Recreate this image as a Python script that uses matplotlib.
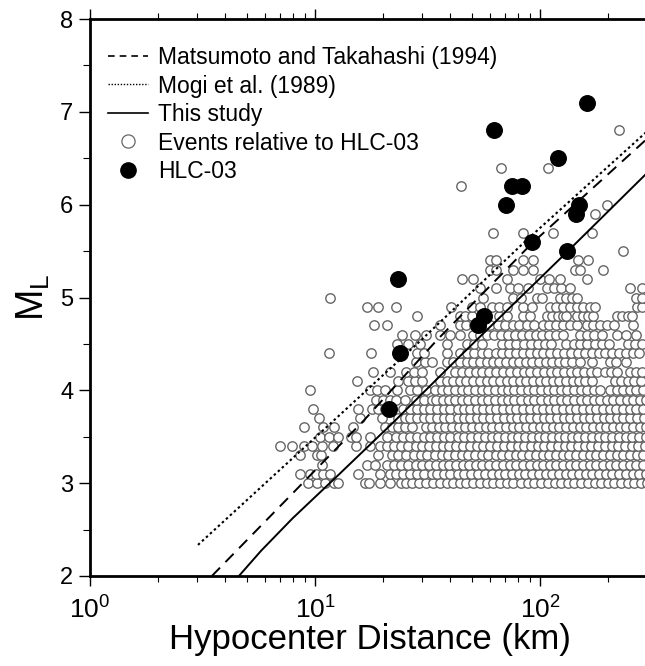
#!/usr/bin/env python3
# M_L vs hypocenter distance, HLC-03 events

import matplotlib
matplotlib.use('Agg')
import matplotlib.pyplot as plt
from matplotlib.lines import Line2D
from matplotlib.ticker import LogLocator, LogFormatterSciNotation, MultipleLocator

plt.rcParams['font.family'] = ['Liberation Sans', 'DejaVu Sans']
plt.rcParams['mathtext.fontset'] = 'custom'
plt.rcParams['mathtext.rm'] = 'Liberation Sans'
plt.rcParams['mathtext.it'] = 'Liberation Sans'
plt.rcParams['mathtext.default'] = 'regular'

# ---- data ----
# relations (distance km, magnitude)
matsumoto_dist = [3.48, 16.4, 34.8, 91.8, 293, 398]
matsumoto_mag = [2.0, 3.67, 4.54, 5.58, 6.69, 6.98]

mogi_dist = [3.02, 12.05, 29.3, 87.3, 293, 398]
mogi_mag = [2.335, 3.67, 4.53, 5.62, 6.77, 7.06]

study_dist = [4.59, 5.75, 7.94, 12.6, 22.4, 45.5, 131.8, 293, 398]
study_mag = [2.0, 2.27, 2.62, 3.08, 3.66, 4.40, 5.49, 6.32, 6.64]

# HLC-03 events
hlc_dist = [21.3, 23.9, 23.5, 52.8, 56.5, 62.6, 70.4, 75.1, 82.8, 92.4,
            120.6, 132, 144, 149, 162]
hlc_mag = [3.8, 4.4, 5.2, 4.7, 4.8, 6.8, 6.0, 6.2, 6.2, 5.6,
           6.5, 5.5, 5.9, 6.0, 7.1]

# x tick positions that carry a label
x_ticks = [1, 10, 100]

# events relative to HLC-03, one list of distances per magnitude level
event_mags = [3.0, 3.1, 3.2, 3.3, 3.4, 3.5, 3.6, 3.7, 3.8, 3.9,
              4.0, 4.1, 4.2, 4.3, 4.4, 4.5, 4.6, 4.7, 4.8, 4.9,
              5.0, 5.1, 5.2, 5.3, 5.4, 5.5, 5.7, 5.9, 6.0, 6.2, 6.4, 6.8]
event_dists = [
    [9.3, 10.2, 11.1, 12.1, 12.7, 16.7, 17.3, 19.4, 21.5, 24, 25.5, 27, 29, 31, 33.5, 36, 38.5, 41, 44, 47,
     50.5, 54, 58, 62, 66.5, 71, 76, 82, 88, 94, 101, 108, 116, 124, 133, 142, 152, 163, 175, 187, 200,
     214, 229, 245, 262, 280, 300],
    [8.6, 9.5, 10.1, 10.9, 11.7, 15.6, 19.4, 21.5, 23, 24.5, 26.5, 28.5, 30.5, 33, 35, 37.5, 40, 43, 46,
     49.5, 53, 57, 61, 65.5, 70, 75, 80.5, 86, 92, 99, 106, 113.5, 121.5, 130, 139, 149, 160, 171, 183,
     196, 210, 225, 241, 258, 276, 296],
    [10.7, 17, 18.5, 21, 22.5, 24, 26, 28, 30, 32, 34.5, 37, 39.5, 42.5, 45.5, 48.5, 52, 55.5, 59.5, 64,
     68.5, 73.5, 78.5, 84, 90, 96.5, 103, 110.5, 118, 126.5, 135.5, 145, 155, 166, 178, 190, 204, 218,
     233, 250, 268, 287],
    [8.6, 10.2, 10.6, 19, 22, 23.5, 25.5, 27.5, 29.5, 31.5, 34, 36.5, 39, 42, 45, 48, 51.5, 55, 59, 63.5,
     68, 73, 78, 83.5, 89.5, 96, 103, 110, 118, 126, 135, 145, 155, 166, 178, 191, 204, 219, 234, 251,
     269, 288],
    [7.0, 7.9, 8.9, 9.7, 10.7, 12, 15.2, 17.6, 19.5, 21, 22.5, 24, 26, 28, 30, 32, 34.5, 37, 39.5, 42.5,
     45.5, 49, 52.5, 56, 60, 64.5, 69, 74, 79.5, 85, 91, 97.5, 104.5, 112, 120, 128.5, 137.5, 147.5, 158,
     169, 181, 194, 208, 223, 239, 256, 274, 294],
    [10.5, 11.5, 12.7, 14.5, 15.2, 17.5, 21, 23, 24.5, 26.5, 28.5, 30.5, 32.5, 35, 37.5, 40, 43, 46, 49.5,
     53, 57, 61, 65, 70, 75, 80, 86, 92, 98.5, 105.5, 113, 121, 129.5, 138.5, 148, 158.5, 170, 182, 195,
     209, 224, 240, 257, 275, 295],
    [8.9, 10.9, 12.1, 14.7, 20.5, 22, 23.5, 25, 27, 31, 33, 35.5, 38, 40.5, 43.5, 46.5, 50, 53.5, 57.5,
     61.5, 66, 70.5, 75.5, 81, 87, 93, 99.5, 106.5, 114, 122, 131, 140, 150, 160.5, 172, 184, 197, 211,
     226, 242, 259, 277, 297],
    [10.4, 15.8, 19.8, 23.5, 25, 26.5, 28.5, 30.5, 32.5, 35, 37.5, 40, 43, 46, 49, 52.5, 56, 60, 64.5, 69,
     74, 79, 84.5, 90.5, 97, 104, 111, 119, 127.5, 136.5, 146, 156.5, 167.5, 179, 192, 205, 220, 235, 252,
     270, 289],
    [9.8, 15.5, 18, 19, 20.5, 24.5, 26.5, 28.5, 30.5, 32.5, 35, 37.5, 40, 43, 46, 49, 52.5, 56, 60, 64,
     68.5, 73.5, 78.5, 84, 90, 96.5, 103, 110.5, 118, 126.5, 135.5, 145, 155, 166, 178, 190.5, 204, 218,
     233.5, 250, 267.5, 286],
    [18.7, 20, 21.5, 23, 25, 28, 30.5, 33, 34.5, 37, 39.5, 42, 45, 48, 51.5, 55, 59, 63, 67.5, 72, 77,
     82.5, 88.5, 94.5, 101, 108, 115.5, 123.5, 132, 141.5, 151.5, 162, 173, 185, 198, 212, 227, 243, 260,
     278, 297],
    [9.5, 17.6, 18.8, 20.5, 23.1, 26.5, 28.5, 31, 34, 36.5, 39, 42, 45, 48, 51.5, 55, 59, 63, 67.5, 72,
     77, 82.5, 88.5, 94.5, 101, 108, 115.5, 123.5, 132, 141.5, 151.5, 162, 173, 185, 205, 219, 234, 250,
     268, 287],
    [15.3, 23.4, 26, 27.8, 30, 36, 38.5, 41, 44, 47, 50.5, 54, 58, 62, 66.5, 71, 76, 81.5, 87, 93, 99.5,
     106.5, 114, 122, 130.5, 139.5, 149, 159, 170, 215, 230, 246, 263, 281],
    [18.1, 21.5, 25.5, 27.5, 30, 36, 42, 45, 48.5, 52, 55.5, 59.5, 64, 68.5, 73.5, 79, 84.5, 90.5, 97,
     104, 111.5, 119.5, 128, 137, 146.5, 157, 168, 180, 194, 207, 220, 251, 268, 285],
    [28.2, 30.8, 33, 38.5, 41, 44, 47.5, 50.5, 54, 58, 62, 66, 70.5, 75.5, 81, 86.5, 92.5, 99, 106, 113,
     121, 129.5, 138.5, 150, 170, 205, 218, 240],
    [11.5, 17.7, 28.3, 30.5, 38.5, 44, 47.5, 51, 55, 59, 63.5, 68, 73, 78.5, 84, 90, 96.5, 103.5, 111,
     119, 127.5, 137, 147, 158, 170, 182, 195, 209, 224, 240, 258, 276],
    [23.1, 26, 29.3, 38.5, 47.2, 51, 55.5, 68, 73, 78.5, 84.5, 91, 98, 105, 112, 131, 141, 151, 162, 175,
     188, 202, 245, 265, 285],
    [24.3, 27.8, 31.3, 35.9, 39.8, 44, 50.5, 54, 58, 62.5, 67, 72, 77.5, 83, 89, 95.5, 102.5, 110, 118,
     126, 151, 162, 174, 188, 220, 240, 268],
    [18.2, 20.8, 36, 44, 47, 51, 55.5, 60, 65, 70, 75.5, 81, 87.5, 94, 103, 110, 118, 127, 136, 146, 161,
     172, 185, 199, 214, 258],
    [28.5, 44.1, 46.4, 50, 56, 66, 71, 84, 90, 107, 113, 120, 127, 131, 146, 155, 164, 172, 219, 232, 245,
     256],
    [17.1, 19.1, 22.8, 40.2, 50, 54, 61, 66, 71, 84, 92, 111, 118, 127, 136, 146, 156, 166, 176, 270, 285],
    [11.7, 56, 76, 82, 97, 102, 123, 131, 139, 146, 268, 285],
    [54, 64, 73.6, 80, 88, 107, 115, 124, 136, 251, 285],
    [44.9, 50.5, 71, 100, 110, 123, 161],
    [60, 64, 76, 84, 93, 143, 151, 191],
    [60, 64, 84, 93, 147, 163],
    [233],
    [62, 84.3, 114.6, 170],
    [175],
    [198],
    [44.6],
    [67, 109],
    [224],
]

# ---- figure ----
fig = plt.figure(figsize=(6.45, 6.66), dpi=100)
# axes run out past the right edge (the original is cropped there)
ax = fig.add_axes([90 / 645, 90 / 666, 675 / 645, 557 / 666])

ev_x = []
ev_y = []
for m, row in zip(event_mags, event_dists):
    ev_x += row
    ev_y += [m] * len(row)

ax.scatter(ev_x, ev_y, s=46, facecolors='white', edgecolors='#666666',
           linewidths=1.0, zorder=2)

ax.plot(matsumoto_dist, matsumoto_mag, color='black', lw=1.4,
        dashes=(6, 4), zorder=3)
ax.plot(mogi_dist, mogi_mag, color='black', lw=1.5, dashes=(1.2, 1.4), zorder=3)
ax.plot(study_dist, study_mag, color='black', lw=1.4, zorder=3)

ax.scatter(hlc_dist, hlc_mag, s=125, color='black', edgecolors='black', zorder=4)

ax.set_xscale('log')
ax.set_xlim(1, 1000)
ax.set_ylim(2, 8)

ax.set_xticks(x_ticks)
ax.xaxis.set_minor_locator(LogLocator(base=10, subs=range(2, 10), numticks=20))
ax.xaxis.set_major_formatter(LogFormatterSciNotation())
ax.xaxis.set_minor_formatter(plt.NullFormatter())
ax.yaxis.set_major_locator(MultipleLocator(1))
ax.yaxis.set_minor_locator(MultipleLocator(0.5))

for s in ax.spines.values():
    s.set_linewidth(2.0)

ax.tick_params(axis='x', which='major', direction='out', length=7, width=1,
               labelsize=19, pad=8, top=True)
ax.tick_params(axis='x', which='minor', direction='out', length=4, width=0.8,
               top=True)
ax.tick_params(axis='y', which='major', direction='out', length=8, width=1,
               labelsize=17, pad=4)
ax.tick_params(axis='y', which='minor', direction='out', length=5, width=0.8)

# label centred under the visible part of the axis
ax.set_xlabel('Hypocenter Distance (km)', fontsize=25)
ax.xaxis.set_label_coords((370 - 90) / 675, -0.085)
ax.set_ylabel('$M_L$', fontsize=27, labelpad=6)

handles = [
    Line2D([], [], color='black', lw=1.2, dashes=(4, 3)),
    Line2D([], [], color='black', lw=1.0, dashes=(1, 1.2)),
    Line2D([], [], color='black', lw=1.2),
    Line2D([], [], ls='none', marker='o', ms=9.5, mfc='white', mec='#666666', mew=0.9),
    Line2D([], [], ls='none', marker='o', ms=11, mfc='black', mec='black'),
]
labels = ['Matsumoto and Takahashi (1994)', 'Mogi et al. (1989)', 'This study',
          'Events relative to HLC-03', 'HLC-03']
fig.legend(handles, labels, loc='upper left', bbox_to_anchor=(108 / 645, 1 - 46 / 666),
           frameon=False, fontsize=16.5, handlelength=1.75, handletextpad=0.45,
           labelspacing=0.24, borderpad=0, borderaxespad=0)

fig.savefig('out.png', dpi=100)
